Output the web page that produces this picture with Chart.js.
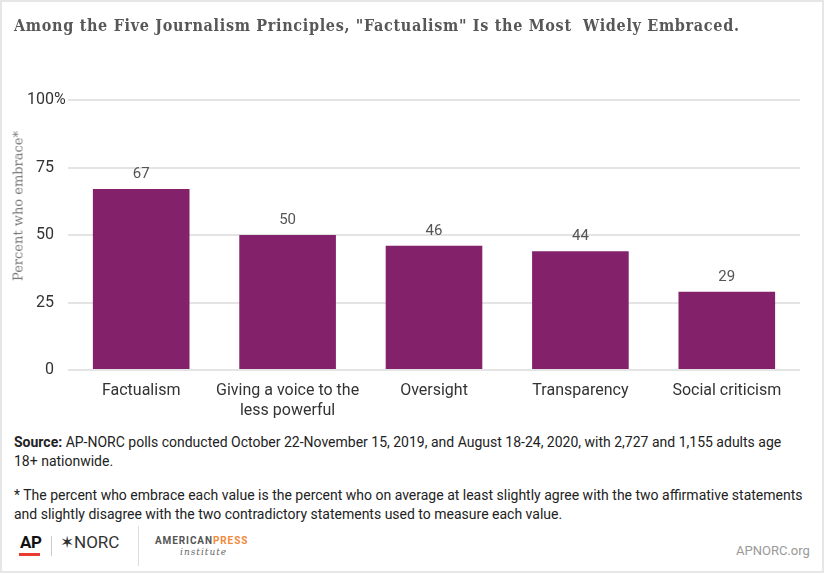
<!DOCTYPE html>
<html>
<head>
<meta charset="utf-8">
<script src="https://cdn.jsdelivr.net/npm/chart.js@4.4.1/dist/chart.umd.min.js"></script>
<style>
  html, body { margin:0; padding:0; background:#fff; }
  body { width:825px; height:575px; position:relative; overflow:hidden; font-family: Roboto, "Liberation Sans", sans-serif; }
  #frame { position:absolute; left:0; top:0; width:820px; height:569px; border:2px solid #e6e6e6; box-sizing:content-box; }
  #wrap { position:absolute; left:0; top:0; width:825px; height:430px; }
  #title { position:absolute; left:14px; top:16px; font-family:"DejaVu Serif Condensed","DejaVu Serif",serif; font-weight:bold; font-size:16px; letter-spacing:0.68px; color:#575757; white-space:nowrap; line-height:20px; }
  #ytitle { position:absolute; left:18px; top:206px; transform:translate(-50%,-50%) rotate(-90deg); font-family:"DejaVu Serif",serif; font-size:13px; color:#7a7a7a; white-space:nowrap; }
  .foot { position:absolute; left:14px; width:800px; font-size:14px; line-height:19px; color:#222; }
  #src { top:433px; width:775px; }
  #note { top:486px; }
  #ap { position:absolute; left:20px; top:532px; font-weight:bold; font-size:17px; color:#111; letter-spacing:-0.5px; }
  #apline { position:absolute; left:19px; top:553px; width:21px; height:3px; background:#ea3b33; }
  #sep1 { position:absolute; left:51px; top:536px; width:1px; height:20px; background:#ccc; }
  #norc { position:absolute; left:60px; top:532px; font-size:17px; color:#333; letter-spacing:0px; }
  #sep2 { position:absolute; left:138px; top:526px; width:1px; height:40px; background:#ddd; }
  #api { position:absolute; left:155px; top:535px; font-size:10px; font-weight:bold; letter-spacing:0.9px; color:#555; }
  #api span { color:#f08a3c; }
  #inst { position:absolute; left:180px; top:547px; font-family:"DejaVu Serif",serif; font-style:italic; font-size:9px; letter-spacing:1px; color:#666; }
  #url { position:absolute; left:736px; top:543px; font-size:13px; color:#999; }
</style>
</head>
<body>
<div id="frame"></div>
<div id="wrap"><canvas id="c" width="825" height="430"></canvas></div>
<div id="title">Among the Five Journalism Principles, "Factualism" Is the Most&nbsp; Widely Embraced.</div>
<div id="ytitle">Percent who embrace*</div>
<div class="foot" id="src"><b>Source:</b> AP-NORC polls conducted October 22-November 15, 2019, and August 18-24, 2020, with 2,727 and 1,155 adults age 18+ nationwide.</div>
<div class="foot" id="note">* The percent who embrace each value is the percent who on average at least slightly agree with the two affirmative statements and slightly disagree with the two contradictory statements used to measure each value.</div>
<div id="ap">AP</div><div id="apline"></div>
<div id="sep1"></div>
<div id="norc">✶NORC</div>
<div id="sep2"></div>
<div id="api">AMERICAN<span>PRESS</span></div>
<div id="inst">institute</div>
<div id="url">APNORC.org</div>
<script>
const categories = ["Factualism", ["Giving a voice to the", "less powerful"], "Oversight", "Transparency", "Social criticism"];
const values = [67, 50, 46, 44, 29];
const yTicks = [0, 25, 50, 75, 100];

const valueLabels = {
  id: 'valueLabels',
  afterDatasetsDraw(chart) {
    const ctx = chart.ctx;
    const meta = chart.getDatasetMeta(0);
    ctx.save();
    ctx.font = '15px Roboto, sans-serif';
    ctx.fillStyle = '#555';
    ctx.textAlign = 'center';
    ctx.textBaseline = 'alphabetic';
    meta.data.forEach((bar, i) => {
      ctx.fillText(String(values[i]), bar.x, bar.y - 11);
    });
    ctx.restore();
  }
};

const yLabels = {
  id: 'yLabels',
  afterDraw(chart) {
    const ctx = chart.ctx;
    const y = chart.scales.y;
    ctx.save();
    ctx.font = '16px Roboto, sans-serif';
    ctx.fillStyle = '#333';
    ctx.textBaseline = 'middle';
    yTicks.forEach(v => {
      const py = y.getPixelForValue(v);
      ctx.textAlign = 'right';
      ctx.fillText(String(v), 54, py);
      if (v === 100) {
        ctx.textAlign = 'left';
        ctx.fillText('%', 54, py);
      }
    });
    ctx.restore();
  }
};

new Chart(document.getElementById('c'), {
  type: 'bar',
  data: {
    labels: categories,
    datasets: [{
      data: values,
      backgroundColor: '#83226a',
      borderWidth: 0,
      categoryPercentage: 1,
      barPercentage: 0.66
    }]
  },
  options: {
    responsive: false,
    animation: false,
    devicePixelRatio: 1,
    layout: { padding: { top: 100, right: 25, left: 0, bottom: 0 } },
    plugins: { legend: { display: false }, tooltip: { enabled: false } },
    scales: {
      y: {
        min: 0, max: 100,
        afterFit(s) { s.width = 68; },
        afterBuildTicks(s) { s.ticks = yTicks.map(v => ({ value: v })); },
        ticks: { display: false },
        grid: { color: '#e4e4e4', lineWidth: 2, drawTicks: false },
        border: { display: false }
      },
      x: {
        afterFit(s) { s.height = 60; },
        grid: { display: false, drawTicks: false },
        border: { display: false },
        ticks: { color: '#333', font: { family: 'Roboto, sans-serif', size: 16, lineHeight: 1.25 }, padding: 11, maxRotation: 0, autoSkip: false }
      }
    }
  },
  plugins: [valueLabels, yLabels]
});
</script>
</body>
</html>
